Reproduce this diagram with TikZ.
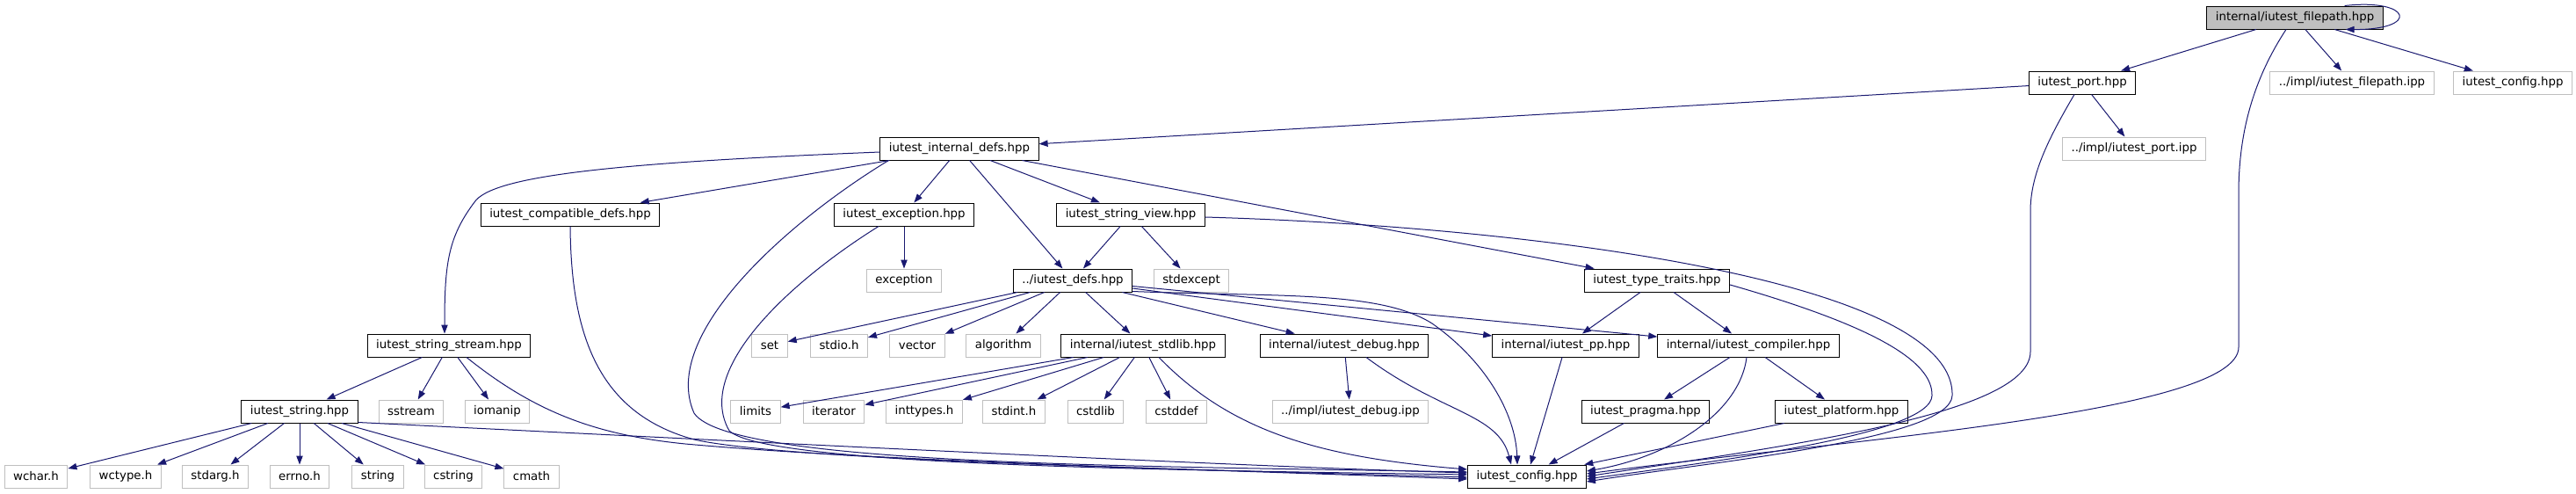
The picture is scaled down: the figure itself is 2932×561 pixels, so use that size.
\documentclass[tikz,border=0pt]{standalone}
\usepackage{fontspec}
\setmainfont{DejaVu Sans}
\usepackage{tikz}
\usetikzlibrary{arrows.meta,calc}
\definecolor{doxEdge}{HTML}{191970}
\definecolor{doxGrey}{HTML}{BFBFBF}
\tikzset{
  incArrow/.style={-{Triangle[length=7.5pt,width=5.5pt]}, line width=0.75pt, draw=doxEdge},
  incFile/.style={
    draw=black,
    fill=white,
    line width=0.75pt,
    minimum height=19.5pt,
    inner xsep=7.5pt,
    inner ysep=2pt,
    font=\fontsize{10}{12}\selectfont
  },
  incExt/.style={incFile, draw=doxGrey},
  incCurrent/.style={incFile, fill=doxGrey}
}

\begin{document}
\begin{tikzpicture}[x=0.75pt, y=-0.75pt]
  \useasboundingbox (0,0) rectangle (2932,561);

  \node[incCurrent] (fpath) at (2612,20) {internal/iutest\_filepath.hpp};

  \node[incFile] (port) at (2370,94) {iutest\_port.hpp};
  \node[incExt] (fpipp) at (2677,94) {../impl/iutest\_filepath.ipp};
  \node[incExt] (cfgtop) at (2860,94) {iutest\_config.hpp};

  \node[incFile] (idefs) at (1092,169) {iutest\_internal\_defs.hpp};
  \node[incExt] (portipp) at (2429,169) {../impl/iutest\_port.ipp};

  \node[incFile] (compat) at (649,244) {iutest\_compatible\_defs.hpp};
  \node[incFile] (exc) at (1029,244) {iutest\_exception.hpp};
  \node[incFile] (sview) at (1287,244) {iutest\_string\_view.hpp};

  \node[incExt] (exception) at (1029,319) {exception};
  \node[incFile] (defs) at (1221,319) {../iutest\_defs.hpp};
  \node[incExt] (stdexcept) at (1356,319) {stdexcept};
  \node[incFile] (ttraits) at (1886,319) {iutest\_type\_traits.hpp};

  \node[incFile] (sstream) at (511,393) {iutest\_string\_stream.hpp};
  \node[incExt] (set) at (876,393) {set};
  \node[incExt] (stdio) at (955,393) {stdio.h};
  \node[incExt] (vector) at (1044,393) {vector};
  \node[incExt] (algorithm) at (1142,393) {algorithm};
  \node[incFile] (stdlib) at (1301,393) {internal/iutest\_stdlib.hpp};
  \node[incFile] (debug) at (1530,393) {internal/iutest\_debug.hpp};
  \node[incFile] (pp) at (1782,393) {internal/iutest\_pp.hpp};
  \node[incFile] (compiler) at (1990,393) {internal/iutest\_compiler.hpp};

  \node[incFile] (string) at (341,468) {iutest\_string.hpp};
  \node[incExt] (sstreamh) at (468,468) {sstream};
  \node[incExt] (iomanip) at (566,468) {iomanip};
  \node[incExt] (limits) at (860,468) {limits};
  \node[incExt] (iterator) at (949,468) {iterator};
  \node[incExt] (inttypes) at (1052,468) {inttypes.h};
  \node[incExt] (stdint) at (1154,468) {stdint.h};
  \node[incExt] (cstdlib) at (1247,468) {cstdlib};
  \node[incExt] (cstddef) at (1339,468) {cstddef};
  \node[incExt] (debugipp) at (1537,468) {../impl/iutest\_debug.ipp};
  \node[incFile] (pragma) at (1873,468) {iutest\_pragma.hpp};
  \node[incFile] (platform) at (2096,468) {iutest\_platform.hpp};

  \node[incExt] (wchar) at (41,542) {wchar.h};
  \node[incExt] (wctype) at (143,542) {wctype.h};
  \node[incExt] (stdarg) at (245,542) {stdarg.h};
  \node[incExt] (errno) at (341,542) {errno.h};
  \node[incExt] (stringh) at (430,542) {string};
  \node[incExt] (cstring) at (516,542) {cstring};
  \node[incExt] (cmath) at (605,542) {cmath};
  \node[incFile] (config) at (1738,542) {iutest\_config.hpp};

  \foreach \a/\b in {fpath/port,fpath/fpipp,fpath/cfgtop,port/idefs,port/portipp,
      idefs/compat,idefs/exc,idefs/defs,idefs/sview,idefs/ttraits,
      sview/defs,sview/stdexcept,exc/exception,
      defs/set,defs/stdio,defs/vector,defs/algorithm,defs/stdlib,defs/debug,defs/pp,defs/compiler,
      ttraits/pp,ttraits/compiler,sstream/string,sstream/sstreamh,sstream/iomanip,
      stdlib/limits,stdlib/iterator,stdlib/inttypes,stdlib/stdint,stdlib/cstdlib,stdlib/cstddef,
      debug/debugipp,pp/config,compiler/pragma,compiler/platform,pragma/config,platform/config,
      string/wchar,string/wctype,string/stdarg,string/errno,string/stringh,string/cstring,
      string/cmath}
    \draw[incArrow] (\a) -- (\b);
  \draw[incArrow] ($(string.south east)+(0,-1)$) .. controls (900,505) and (1400,530) .. ($(config.west)+(0,-4)$);

  \draw[incArrow] ($(fpath.north east)+(-44,0)$) .. controls (2745,-2) and (2755,34) .. ($(fpath.south east)+(-43,0)$);
  \draw[incArrow] ($(fpath.south)+(-10,0)$) .. controls (2565,90) and (2548,150) .. (2548,220)
    -- (2548,395) .. controls (2548,470) and (2100,500) .. ($(config.east)+(0,-3)$);
  \draw[incArrow] ($(port.south)+(-9,0)$) .. controls (2330,160) and (2311,200) .. (2311,240)
    -- (2311,400) .. controls (2311,470) and (2050,505) .. (config.east);

  \draw[incArrow] ($(idefs.west)+(0,4)$) .. controls (700,185) and (560,200) .. (540,230)
    .. controls (510,270) and (506,300) .. ($(sstream.north)+(-5,0)$);
  \draw[incArrow] ($(idefs.south west)+(10,0)$) .. controls (900,250) and (750,380) .. (790,470)
    .. controls (830,530) and (1300,530) .. ($(config.west)+(0,-5)$);
  \draw[incArrow] ($(exc.south)+(-29,0)$) .. controls (900,320) and (790,420) .. (830,490)
    .. controls (870,530) and (1350,535) .. ($(config.west)+(0,-2)$);
  \draw[incArrow] (compat.south) .. controls (650,380) and (680,470) .. (790,500)
    .. controls (900,525) and (1400,535) .. ($(config.west)+(0,1)$);
  \draw[incArrow] ($(sstream.south)+(20,0)$) .. controls (610,470) and (680,495) .. (780,505)
    .. controls (1000,525) and (1400,535) .. ($(config.west)+(0,3)$);

  \draw[incArrow] ($(sview.east)+(0,3)$) .. controls (1750,258) and (2225,320) .. (2222,450)
    .. controls (2220,500) and (1950,525) .. ($(config.east)+(0,6)$);
  \draw[incArrow] ($(ttraits.east)+(0,5)$) .. controls (2130,370) and (2200,410) .. (2199,450)
    .. controls (2198,495) and (1950,525) .. ($(config.east)+(0,3)$);
  \draw[incArrow] ($(defs.south east)+(0,-1)$) .. controls (1450,338) and (1570,330) .. (1630,368)
    .. controls (1690,410) and (1725,470) .. ($(config.north)+(-11,0)$);
  \draw[incArrow] ($(stdlib.south)+(18,0)$) .. controls (1400,490) and (1500,520) .. ($(config.west)+(0,-8)$);
  \draw[incArrow] ($(debug.south)+(25,0)$) .. controls (1640,470) and (1705,470) .. ($(config.north)+(-18,0)$);
  \draw[incArrow] ($(compiler.south)+(-2,0)$) .. controls (1980,470) and (1900,520) .. ($(config.east)+(0,-6)$);
\end{tikzpicture}
\end{document}
